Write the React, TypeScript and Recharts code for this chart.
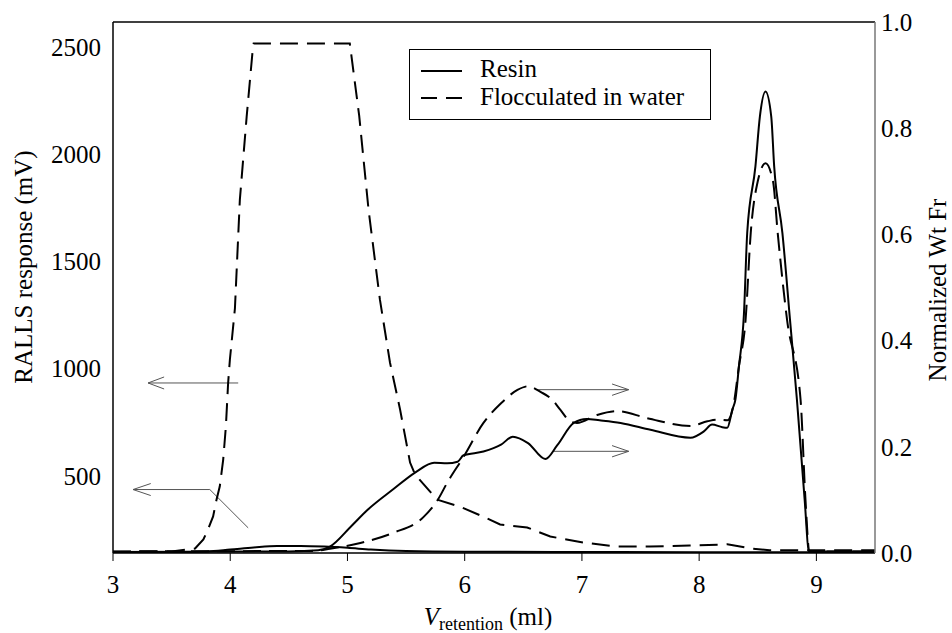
import React from 'react';
import { LineChart, Line, XAxis, YAxis, ReferenceLine, Legend } from 'recharts';

const FONT = '"Liberation Serif", "Times New Roman", serif';

const xTicks = [3, 4, 5, 6, 7, 8, 9];
const leftTicks = [500, 1000, 1500, 2000, 2500];
const rightTicks = [0, 0.2, 0.4, 0.6, 0.8, 1.0];
const xDomain: [number, number] = [3, 9.5];
const leftDomain: [number, number] = [139, 2617];
const rightDomain: [number, number] = [0, 1];

// RALLS response (mV), left axis
const resinRalls: [number, number][] = [
  [3.0, 143], [3.5, 143], [3.8, 146], [4.0, 155], [4.2, 165], [4.4, 172], [4.6, 172],
  [4.8, 169], [5.0, 163], [5.2, 155], [5.5, 148], [6.0, 145], [7.0, 144], [8.0, 143],
  [9.0, 143], [9.5, 143],
];
const flocRalls: [number, number][] = [
  [3.0, 145], [3.5, 146], [3.7, 160], [3.771, 202], [3.81, 248], [3.854, 310], [3.883, 388],
  [3.911, 450], [3.94, 575], [3.963, 730], [3.982, 932], [3.997, 1041], [4.04, 1280],
  [4.082, 1787], [4.14, 2174], [4.19, 2477], [4.2, 2517], [5.02, 2517], [5.1, 2180],
  [5.18, 1740], [5.277, 1321], [5.363, 1027], [5.449, 808], [5.534, 561], [5.577, 505],
  [5.765, 388], [5.96, 355], [6.157, 309], [6.302, 272], [6.533, 258], [6.73, 216],
  [7.01, 188], [7.3, 169], [7.58, 169], [7.92, 174], [8.2, 178], [8.24, 180], [8.44, 160],
  [8.6, 152], [9.0, 152], [9.5, 152],
];

// Normalized Wt Fr, right axis
const resinWtFr: [number, number][] = [
  [3.0, 0.002], [4.5, 0.003], [4.75, 0.005], [4.85, 0.012], [5.03, 0.05], [5.17, 0.081],
  [5.39, 0.12], [5.58, 0.152], [5.74, 0.17], [5.85, 0.169], [5.94, 0.172], [5.99, 0.184],
  [6.16, 0.191], [6.31, 0.204], [6.41, 0.219], [6.54, 0.207], [6.688, 0.177], [6.79, 0.203],
  [6.93, 0.245], [7.04, 0.2525], [7.15, 0.25], [7.33, 0.245], [7.585, 0.232], [7.925, 0.217],
  [8.04, 0.229], [8.11, 0.242], [8.197, 0.237], [8.24, 0.236], [8.283, 0.27], [8.31, 0.29],
  [8.339, 0.351], [8.382, 0.45], [8.41, 0.603], [8.48, 0.728], [8.518, 0.822], [8.566, 0.869],
  [8.615, 0.822], [8.64, 0.728], [8.71, 0.603], [8.775, 0.439], [8.834, 0.289], [8.9, 0.1],
  [8.937, 0.003], [9.5, 0.003],
];
const flocWtFr: [number, number][] = [
  [3.0, 0.003], [4.7, 0.004], [4.85, 0.008], [5.11, 0.019], [5.39, 0.038], [5.65, 0.068],
  [5.77, 0.1], [5.85, 0.132], [5.99, 0.181], [6.16, 0.245], [6.31, 0.282], [6.45, 0.307],
  [6.54, 0.314], [6.65, 0.303], [6.745, 0.289], [6.815, 0.27], [6.9, 0.248], [6.957, 0.245],
  [7.13, 0.26], [7.3, 0.267], [7.556, 0.254], [7.925, 0.239], [8.07, 0.248], [8.155, 0.251],
  [8.24, 0.25], [8.29, 0.275], [8.339, 0.351], [8.396, 0.439], [8.44, 0.603], [8.5, 0.7],
  [8.566, 0.734], [8.63, 0.7], [8.67, 0.603], [8.75, 0.439], [8.865, 0.289], [8.907, 0.1],
  [8.94, 0.003], [9.5, 0.003],
];

// annotation arrows (data coordinates on x / right axis)
const arrowSegments: [number, number, number, number][] = [
  [3.299, 0.3202, 4.068, 0.3202], [3.299, 0.3202, 3.436, 0.3315], [3.299, 0.3202, 3.436, 0.3089],
  [3.171, 0.1195, 3.826, 0.1195], [3.171, 0.1195, 3.322, 0.1308], [3.171, 0.1195, 3.322, 0.1082],
  [3.826, 0.1195, 4.153, 0.0474],
  [6.628, 0.3076, 7.399, 0.3076], [7.399, 0.3076, 7.257, 0.3183], [7.399, 0.3076, 7.257, 0.2969],
  [6.758, 0.1915, 7.399, 0.1915], [7.399, 0.1915, 7.257, 0.2023], [7.399, 0.1915, 7.257, 0.181],
];

const toRows = (pts: [number, number][]) => pts.map(([v, y]) => ({ v, y }));

const XLabel = (props: any) => {
  const vb = props.viewBox || { x: 113, y: 553, width: 762, height: 80 };
  const cx = vb.x + vb.width / 2 - 6;
  return (
    <text x={cx} y={625} textAnchor="middle" fontFamily={FONT} fill="#000" fontSize={25}>
      <tspan fontStyle="italic">V</tspan>
      <tspan fontSize={18} dy={5}>retention</tspan>
      <tspan dy={-5}> (ml)</tspan>
    </text>
  );
};

const LeftLabel = () => (
  <text x={32} y={267} transform="rotate(-90 32 267)" textAnchor="middle" fontFamily={FONT} fontSize={25} fill="#000">
    RALLS response (mV)
  </text>
);

const RightLabel = () => (
  <text x={946} y={290} transform="rotate(-90 946 290)" textAnchor="middle" fontFamily={FONT} fontSize={25} fill="#000">
    Normalized Wt Fr
  </text>
);

const LegendBox = () => (
  <svg width={302} height={71} style={{ display: 'block' }}>
    <rect x={0.5} y={0.5} width={301} height={70} fill="#fff" stroke="#000" strokeWidth={1} />
    <line x1={12} x2={53} y1={22} y2={22} stroke="#000" strokeWidth={2} />
    <line x1={12} x2={53} y1={49} y2={49} stroke="#000" strokeWidth={2} strokeDasharray="16 9" />
    <text x={71} y={28} fontFamily={FONT} fontSize={25} fill="#000">Resin</text>
    <text x={71} y={56} fontFamily={FONT} fontSize={25} fill="#000">Flocculated in water</text>
  </svg>
);

export default function App() {
  const tickStyle = { fill: '#000', fontSize: 25, fontFamily: FONT };
  return (
    <div style={{ position: 'absolute', left: 0, top: 0, width: 952, height: 633, background: '#fff' }}>
      <LineChart width={952} height={633} margin={{ top: 22, right: 0, bottom: 0, left: 0 }}>
        <XAxis
          dataKey="v"
          type="number"
          domain={xDomain}
          ticks={xTicks}
          allowDataOverflow
          height={80}
          tick={tickStyle}
          tickSize={8}
          tickMargin={14}
          tickLine={{ stroke: '#000' }}
          axisLine={{ stroke: '#000', strokeWidth: 1.5 }}
          label={(p: any) => <XLabel {...p} />}
        />
        <YAxis
          yAxisId="left"
          orientation="left"
          type="number"
          domain={leftDomain}
          ticks={leftTicks}
          allowDataOverflow
          width={113}
          tick={tickStyle}
          tickLine={false}
          tickSize={0}
          tickMargin={12}
          axisLine={{ stroke: '#000', strokeWidth: 1.5 }}
          label={() => <LeftLabel />}
        />
        <YAxis
          yAxisId="right"
          orientation="right"
          type="number"
          domain={rightDomain}
          ticks={rightTicks}
          allowDataOverflow
          width={77}
          tick={tickStyle}
          tickFormatter={(v: number) => v.toFixed(1)}
          tickLine={false}
          tickSize={0}
          tickMargin={6}
          axisLine={{ stroke: '#777', strokeWidth: 1.5 }}
          label={() => <RightLabel />}
        />
        <ReferenceLine yAxisId="right" y={1} stroke="#000" strokeWidth={1.5} ifOverflow="visible" />
        {arrowSegments.map(([x1, y1, x2, y2], i) => (
          <ReferenceLine
            key={i}
            yAxisId="right"
            segment={[{ x: x1, y: y1 }, { x: x2, y: y2 }]}
            stroke="#555"
            strokeWidth={1}
            ifOverflow="visible"
          />
        ))}
        <Line data={toRows(resinRalls)} yAxisId="left" dataKey="y" type="monotoneX" stroke="#000" strokeWidth={2} dot={false} isAnimationActive={false} />
        <Line data={toRows(flocRalls)} yAxisId="left" dataKey="y" type="linear" stroke="#000" strokeWidth={2} strokeDasharray="18 9" dot={false} isAnimationActive={false} />
        <Line data={toRows(resinWtFr)} yAxisId="right" dataKey="y" type="monotoneX" stroke="#000" strokeWidth={2} dot={false} isAnimationActive={false} />
        <Line data={toRows(flocWtFr)} yAxisId="right" dataKey="y" type="monotoneX" stroke="#000" strokeWidth={2} strokeDasharray="18 8" dot={false} isAnimationActive={false} />
        <Legend
          layout="horizontal"
          verticalAlign="middle"
          align="center"
          content={() => <LegendBox />}
          wrapperStyle={{ position: 'absolute', left: 409, top: 49, width: 302, height: 71 }}
        />
      </LineChart>
    </div>
  );
}
